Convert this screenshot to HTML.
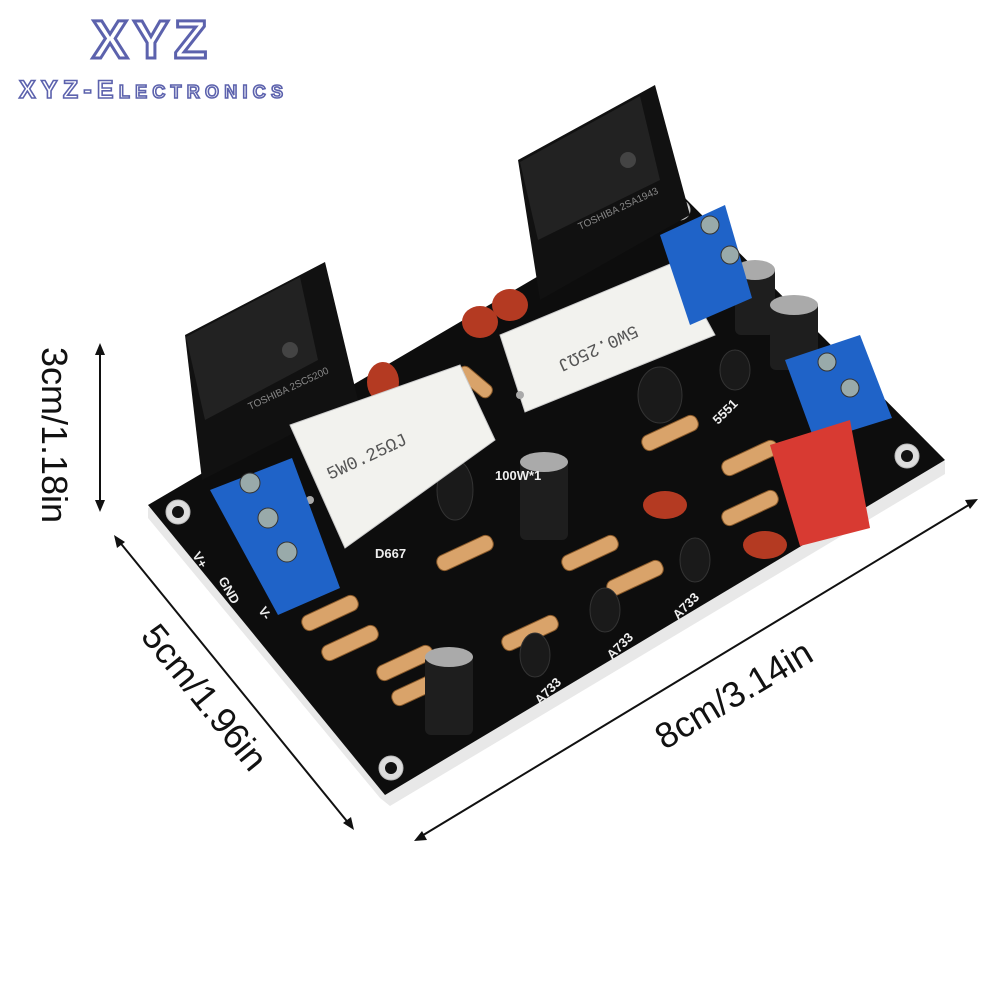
<!DOCTYPE html>
<html><head><meta charset="utf-8"><style>
html,body{margin:0;padding:0;background:#fff;width:1000px;height:1000px;overflow:hidden}
svg{display:block}
</style></head><body>
<svg width="1000" height="1000" viewBox="0 0 1000 1000" xmlns="http://www.w3.org/2000/svg">
<rect width="1000" height="1000" fill="#fff"/>
<!-- logo -->
<text x="152" y="58" text-anchor="middle" font-family="Liberation Sans, sans-serif" font-weight="bold" font-size="54" fill="#fff" stroke="#5c62ad" stroke-width="3" letter-spacing="5">XYZ</text>
<text x="152" y="98" text-anchor="middle" font-family="Liberation Sans, sans-serif" font-weight="bold" font-size="25" fill="#fff" stroke="#5c62ad" stroke-width="1.6" letter-spacing="2" font-variant="small-caps" textLength="266">XYZ-Electronics</text>
<!-- dimension arrows -->
<g stroke="#111" stroke-width="2" fill="#111">
<line x1="100" y1="350" x2="100" y2="505"/>
<path d="M100,343 l-5,12 h10z M100,512 l-5,-12 h10z" stroke="none"/>
<line x1="118" y1="540" x2="350" y2="825"/>
<path d="M114,535 l3,13 l8,-6z M354,830 l-3,-13 l-8,6z" stroke="none"/>
<line x1="420" y1="837" x2="972" y2="503"/>
<path d="M414,841 l13,-1 l-5,-9z M978,499 l-13,1 l5,9z" stroke="none"/>
</g>
<g font-family="Liberation Sans, sans-serif" font-size="36" fill="#111">
<text transform="translate(42,435) rotate(90)" text-anchor="middle">3cm/1.18in</text>
<text transform="translate(195,705) rotate(51)" text-anchor="middle">5cm/1.96in</text>
<text transform="translate(740,705) rotate(-31)" text-anchor="middle">8cm/3.14in</text>
</g>
<!-- PCB -->
<polygon points="148,508 680,196 945,462 945,474 390,806 380,798 148,518" fill="#e8e8e8"/>
<polygon points="148,505 680,193 945,460 385,795" fill="#0d0d0d"/>
<g fill="#ddd" stroke="#bbb"><circle cx="178" cy="512" r="12"/><circle cx="391" cy="768" r="12"/><circle cx="907" cy="456" r="12"/><circle cx="680" cy="210" r="10"/></g>
<g fill="#111"><circle cx="178" cy="512" r="6"/><circle cx="391" cy="768" r="6"/><circle cx="907" cy="456" r="6"/></g>
<g fill="#d9a36a" stroke="#8a5a2a" stroke-width="1">
<rect x="300" y="605" width="60" height="16" rx="7" transform="rotate(-25 330 613)"/>
<rect x="320" y="635" width="60" height="16" rx="7" transform="rotate(-25 350 643)"/>
<rect x="375" y="655" width="60" height="16" rx="7" transform="rotate(-25 405 663)"/>
<rect x="390" y="680" width="60" height="16" rx="7" transform="rotate(-25 420 688)"/>
<rect x="435" y="545" width="60" height="16" rx="7" transform="rotate(-25 465 553)"/>
<rect x="500" y="625" width="60" height="16" rx="7" transform="rotate(-25 530 633)"/>
<rect x="560" y="545" width="60" height="16" rx="7" transform="rotate(-25 590 553)"/>
<rect x="605" y="570" width="60" height="16" rx="7" transform="rotate(-25 635 578)"/>
<rect x="640" y="425" width="60" height="16" rx="7" transform="rotate(-25 670 433)"/>
<rect x="720" y="450" width="60" height="16" rx="7" transform="rotate(-25 750 458)"/>
<rect x="720" y="500" width="60" height="16" rx="7" transform="rotate(-25 750 508)"/>
<rect x="455" y="375" width="40" height="14" rx="6" transform="rotate(40 475 382)"/>
</g>
<g fill="#b43a22"><ellipse cx="383" cy="382" rx="16" ry="20"/><ellipse cx="480" cy="322" rx="18" ry="16"/><ellipse cx="510" cy="305" rx="18" ry="16"/><ellipse cx="665" cy="505" rx="22" ry="14"/><ellipse cx="765" cy="545" rx="22" ry="14"/></g>
<g fill="#1a1a1a" stroke="#333"><ellipse cx="455" cy="490" rx="18" ry="30"/><ellipse cx="660" cy="395" rx="22" ry="28"/><ellipse cx="735" cy="370" rx="15" ry="20"/><ellipse cx="535" cy="655" rx="15" ry="22"/><ellipse cx="605" cy="610" rx="15" ry="22"/><ellipse cx="695" cy="560" rx="15" ry="22"/></g>
<g><rect x="520" y="460" width="48" height="80" rx="6" fill="#1e1e1e"/><ellipse cx="544" cy="462" rx="24" ry="10" fill="#aaa"/>
<rect x="425" y="655" width="48" height="80" rx="6" fill="#1e1e1e"/><ellipse cx="449" cy="657" rx="24" ry="10" fill="#aaa"/>
<rect x="735" y="265" width="40" height="70" rx="6" fill="#1e1e1e"/><ellipse cx="755" cy="270" rx="20" ry="10" fill="#aaa"/>
<rect x="770" y="300" width="48" height="70" rx="6" fill="#1e1e1e"/><ellipse cx="794" cy="305" rx="24" ry="10" fill="#aaa"/></g>
<!-- power transistors -->
<polygon points="185,335 325,262 358,400 202,480" fill="#111"/>
<polygon points="186,337 300,277 318,360 205,420" fill="#222"/>
<circle cx="290" cy="350" r="8" fill="#444"/>
<text transform="translate(250,410) rotate(-25)" font-family="Liberation Sans, sans-serif" font-size="10" fill="#888">TOSHIBA 2SC5200</text>
<polygon points="518,160 655,85 690,215 540,300" fill="#111"/>
<polygon points="520,162 640,96 660,180 538,240" fill="#222"/>
<circle cx="628" cy="160" r="8" fill="#444"/>
<text transform="translate(580,230) rotate(-25)" font-family="Liberation Sans, sans-serif" font-size="10" fill="#888">TOSHIBA 2SA1943</text>
<!-- white cement resistors -->
<polygon points="290,425 460,365 495,440 345,548" fill="#f2f2ee" stroke="#ccc"/>
<text transform="translate(330,480) rotate(-25)" font-family="Liberation Mono, monospace" font-size="18" fill="#555">5W0.25ΩJ</text>
<polygon points="500,335 675,262 715,335 525,412" fill="#f2f2ee" stroke="#ccc"/>
<text transform="translate(635,325) rotate(155)" font-family="Liberation Mono, monospace" font-size="18" fill="#555">5W0.25ΩJ</text>
<g fill="#aaa"><circle cx="310" cy="500" r="4"/><circle cx="520" cy="395" r="4"/></g>
<!-- blue terminal blocks -->
<polygon points="210,490 292,458 340,588 278,615" fill="#1f63c8"/>
<g fill="#9aa" stroke="#333"><circle cx="250" cy="483" r="10"/><circle cx="268" cy="518" r="10"/><circle cx="287" cy="552" r="10"/></g>
<polygon points="660,235 725,205 752,298 690,325" fill="#1f63c8"/>
<g fill="#9aa" stroke="#333"><circle cx="710" cy="225" r="9"/><circle cx="730" cy="255" r="9"/></g>
<polygon points="785,360 860,335 892,418 815,442" fill="#1f63c8"/>
<g fill="#9aa" stroke="#333"><circle cx="827" cy="362" r="9"/><circle cx="850" cy="388" r="9"/></g>
<polygon points="770,445 850,420 870,528 800,546" fill="#d83a32"/>
<g font-family="Liberation Sans, sans-serif" font-size="13" fill="#eee" font-weight="bold">
<text transform="translate(192,555) rotate(60)">V+</text>
<text transform="translate(218,580) rotate(60)">GND</text>
<text transform="translate(258,610) rotate(60)">V-</text>
<text x="375" y="558">D667</text>
<text x="495" y="480">100W*1</text>
<text transform="translate(540,705) rotate(-45)">A733</text>
<text transform="translate(612,660) rotate(-45)">A733</text>
<text transform="translate(678,620) rotate(-45)">A733</text>
<text transform="translate(718,425) rotate(-45)">5551</text>
</g>
</svg>
</body></html>
